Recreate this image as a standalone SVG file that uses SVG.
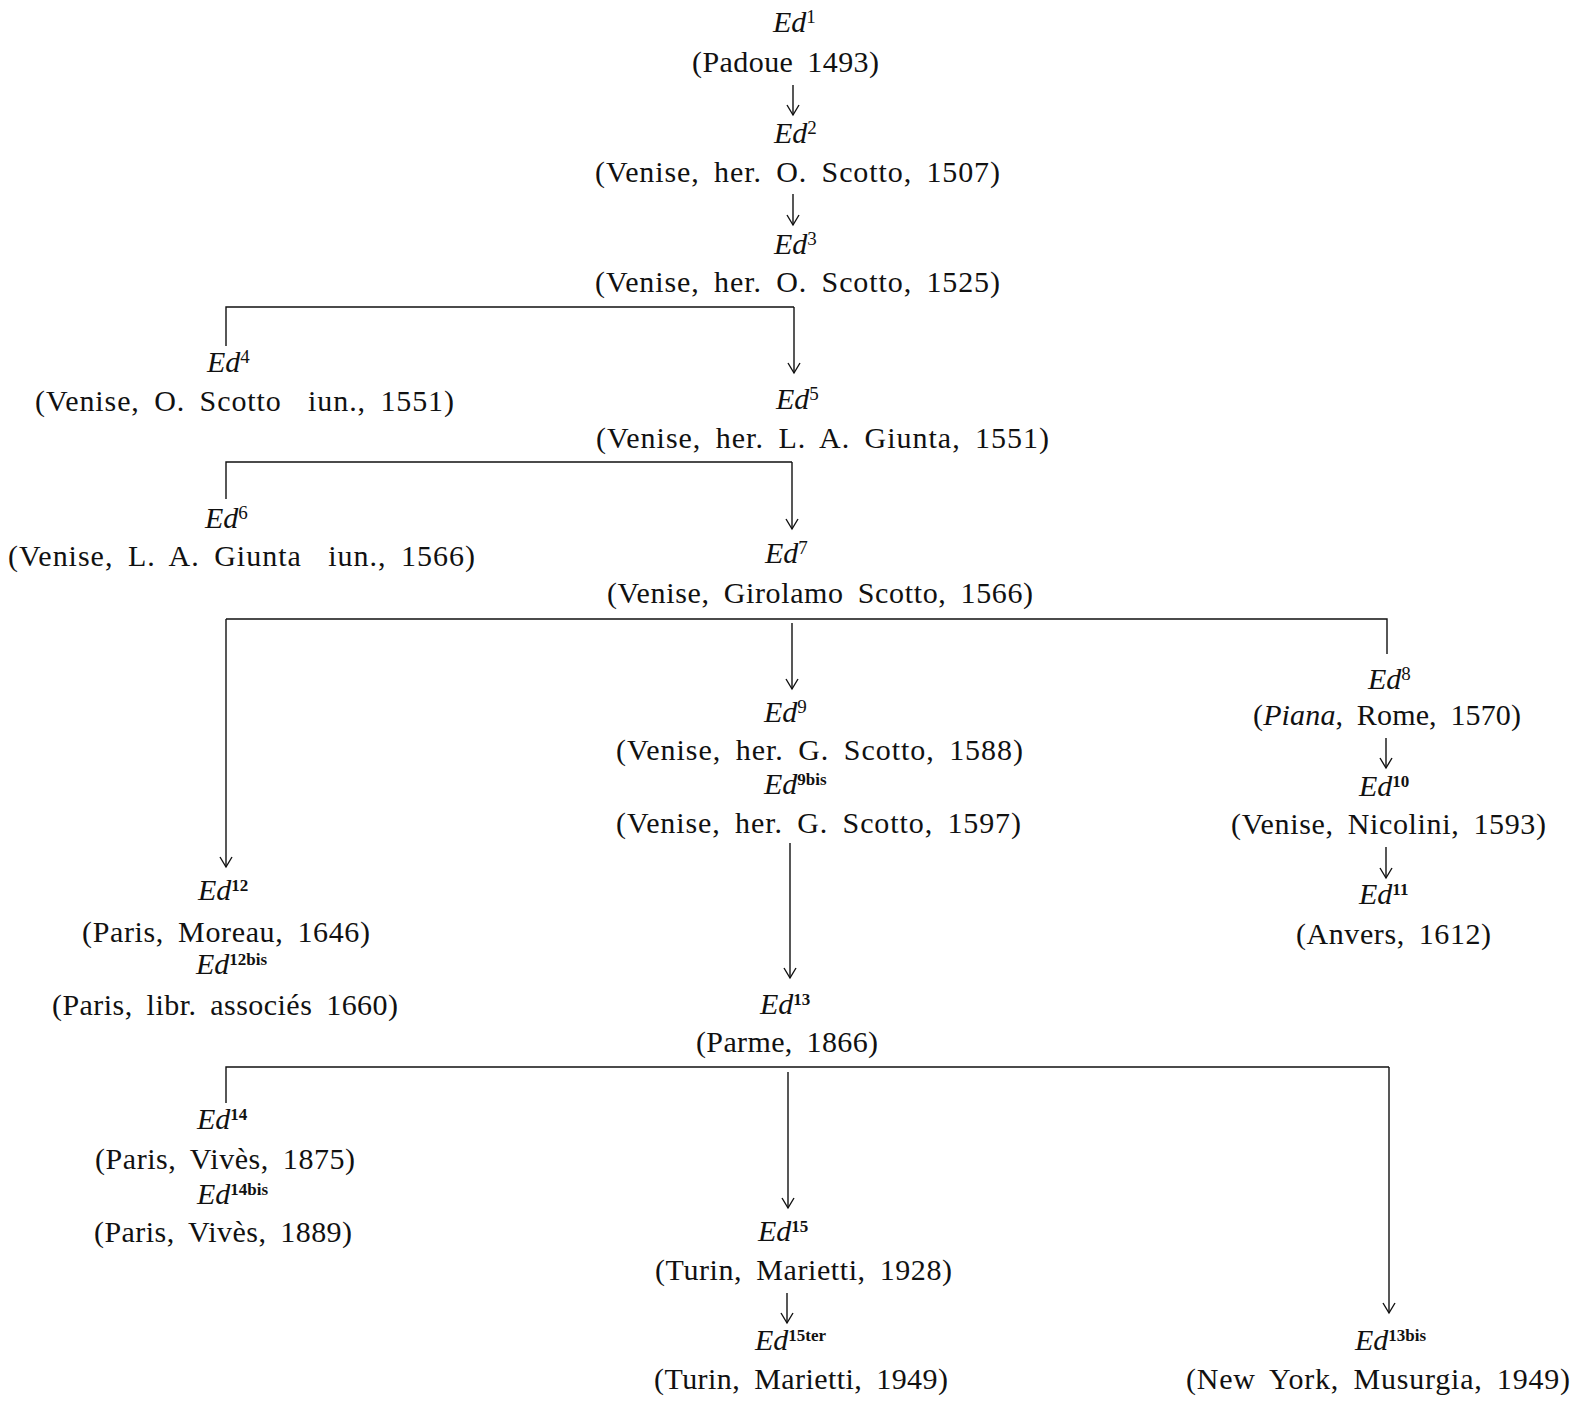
<svg xmlns="http://www.w3.org/2000/svg" width="1572" height="1402" viewBox="0 0 1572 1402">
<style>
text{font-family:"Liberation Serif","Times New Roman",serif;font-size:30px;fill:#111}
.t{word-spacing:6px}
.e{font-style:italic}
.s{font-style:normal;font-size:19px}
.b{font-style:normal;font-size:17px;font-weight:bold}
.c line,.c path{stroke:#111;stroke-width:1.4;fill:none}
</style>
<defs>
<marker id="ah" viewBox="-12 -8 14 16" markerWidth="14" markerHeight="16" refX="0" refY="0" orient="auto" markerUnits="userSpaceOnUse">
<path d="M-10,-6 L0,0 L-10,6" fill="none" stroke="#111" stroke-width="1.4"/>
</marker>
</defs>
<g class="c" id="connectors">
<line x1="793" y1="85" x2="793" y2="115" marker-end="url(#ah)"/>
<line x1="793" y1="194" x2="793" y2="225" marker-end="url(#ah)"/>
<path d="M226,346 V307 H794"/>
<line x1="794" y1="307" x2="794" y2="373" marker-end="url(#ah)"/>
<path d="M226,499 V462 H792"/>
<line x1="792" y1="462" x2="792" y2="529" marker-end="url(#ah)"/>
<path d="M1387,654 V619 H226"/>
<line x1="226" y1="619" x2="226" y2="867" marker-end="url(#ah)"/>
<line x1="792" y1="623" x2="792" y2="689" marker-end="url(#ah)"/>
<line x1="1386" y1="738" x2="1386" y2="768" marker-end="url(#ah)"/>
<line x1="1386" y1="847" x2="1386" y2="878" marker-end="url(#ah)"/>
<line x1="790" y1="843" x2="790" y2="978" marker-end="url(#ah)"/>
<path d="M226,1103 V1067 H1389"/>
<line x1="1389" y1="1067" x2="1389" y2="1313" marker-end="url(#ah)"/>
<line x1="788" y1="1072" x2="788" y2="1208" marker-end="url(#ah)"/>
<line x1="787" y1="1293" x2="787" y2="1323" marker-end="url(#ah)"/>
</g>
<g id="ed1"><text class="e" x="773" y="32">Ed<tspan class="s" dy="-9">1</tspan></text>
<text class="t" x="692" y="72" textLength="187" lengthAdjust="spacing">(Padoue 1493)</text></g>
<g id="ed2"><text class="e" x="774" y="143">Ed<tspan class="s" dy="-9">2</tspan></text>
<text class="t" x="595" y="182" textLength="405" lengthAdjust="spacing">(Venise, her. O. Scotto, 1507)</text></g>
<g id="ed3"><text class="e" x="774" y="254">Ed<tspan class="s" dy="-9">3</tspan></text>
<text class="t" x="595" y="292" textLength="405" lengthAdjust="spacing">(Venise, her. O. Scotto, 1525)</text></g>
<g id="ed4"><text class="e" x="207" y="372">Ed<tspan class="s" dy="-9">4</tspan></text>
<text class="t" x="35" y="411" textLength="419" lengthAdjust="spacing">(Venise, O. Scotto <tspan dx="12">iun., 1551)</tspan></text></g>
<g id="ed5"><text class="e" x="776" y="409">Ed<tspan class="s" dy="-9">5</tspan></text>
<text class="t" x="596" y="448" textLength="453" lengthAdjust="spacing">(Venise, her. L. A. Giunta, 1551)</text></g>
<g id="ed6"><text class="e" x="205" y="528">Ed<tspan class="s" dy="-9">6</tspan></text>
<text class="t" x="8" y="566" textLength="467" lengthAdjust="spacing">(Venise, L. A. Giunta <tspan dx="12">iun., 1566)</tspan></text></g>
<g id="ed7"><text class="e" x="765" y="563">Ed<tspan class="s" dy="-9">7</tspan></text>
<text class="t" x="607" y="603" textLength="426" lengthAdjust="spacing">(Venise, Girolamo Scotto, 1566)</text></g>
<g id="ed8"><text class="e" x="1368" y="689">Ed<tspan class="s" dy="-9">8</tspan></text>
<text class="t" x="1253" y="725" textLength="268" lengthAdjust="spacing">(<tspan class="e">Piana</tspan>, Rome, 1570)</text></g>
<g id="ed9"><text class="e" x="764" y="722">Ed<tspan class="s" dy="-9">9</tspan></text>
<text class="t" x="616" y="760" textLength="407" lengthAdjust="spacing">(Venise, her. G. Scotto, 1588)</text>
<text class="e" x="764" y="794">Ed<tspan class="b" dy="-9">9bis</tspan></text>
<text class="t" x="616" y="833" textLength="405" lengthAdjust="spacing">(Venise, her. G. Scotto, 1597)</text></g>
<g id="ed10"><text class="e" x="1359" y="796">Ed<tspan class="b" dy="-9">10</tspan></text>
<text class="t" x="1231" y="834" textLength="315" lengthAdjust="spacing">(Venise, Nicolini, 1593)</text></g>
<g id="ed11"><text class="e" x="1359" y="904">Ed<tspan class="b" dy="-9">11</tspan></text>
<text class="t" x="1296" y="944" textLength="195" lengthAdjust="spacing">(Anvers, 1612)</text></g>
<g id="ed12"><text class="e" x="198" y="900">Ed<tspan class="b" dy="-9">12</tspan></text>
<text class="t" x="82" y="942" textLength="288" lengthAdjust="spacing">(Paris, Moreau, 1646)</text>
<text class="e" x="196" y="974">Ed<tspan class="b" dy="-9">12bis</tspan></text>
<text class="t" x="52" y="1015" textLength="346" lengthAdjust="spacing">(Paris, libr. associés 1660)</text></g>
<g id="ed13"><text class="e" x="760" y="1014">Ed<tspan class="b" dy="-9">13</tspan></text>
<text class="t" x="696" y="1052" textLength="182" lengthAdjust="spacing">(Parme, 1866)</text></g>
<g id="ed14"><text class="e" x="197" y="1129">Ed<tspan class="b" dy="-9">14</tspan></text>
<text class="t" x="95" y="1169" textLength="260" lengthAdjust="spacing">(Paris, Vivès, 1875)</text>
<text class="e" x="197" y="1204">Ed<tspan class="b" dy="-9">14bis</tspan></text>
<text class="t" x="94" y="1242" textLength="258" lengthAdjust="spacing">(Paris, Vivès, 1889)</text></g>
<g id="ed15"><text class="e" x="758" y="1241">Ed<tspan class="b" dy="-9">15</tspan></text>
<text class="t" x="655" y="1280" textLength="297" lengthAdjust="spacing">(Turin, Marietti, 1928)</text>
<text class="e" x="755" y="1350">Ed<tspan class="b" dy="-9">15ter</tspan></text>
<text class="t" x="654" y="1389" textLength="294" lengthAdjust="spacing">(Turin, Marietti, 1949)</text></g>
<g id="ed13bis"><text class="e" x="1355" y="1350">Ed<tspan class="b" dy="-9">13bis</tspan></text>
<text class="t" x="1186" y="1389" textLength="384" lengthAdjust="spacing">(New York, Musurgia, 1949)</text></g>
</svg>
